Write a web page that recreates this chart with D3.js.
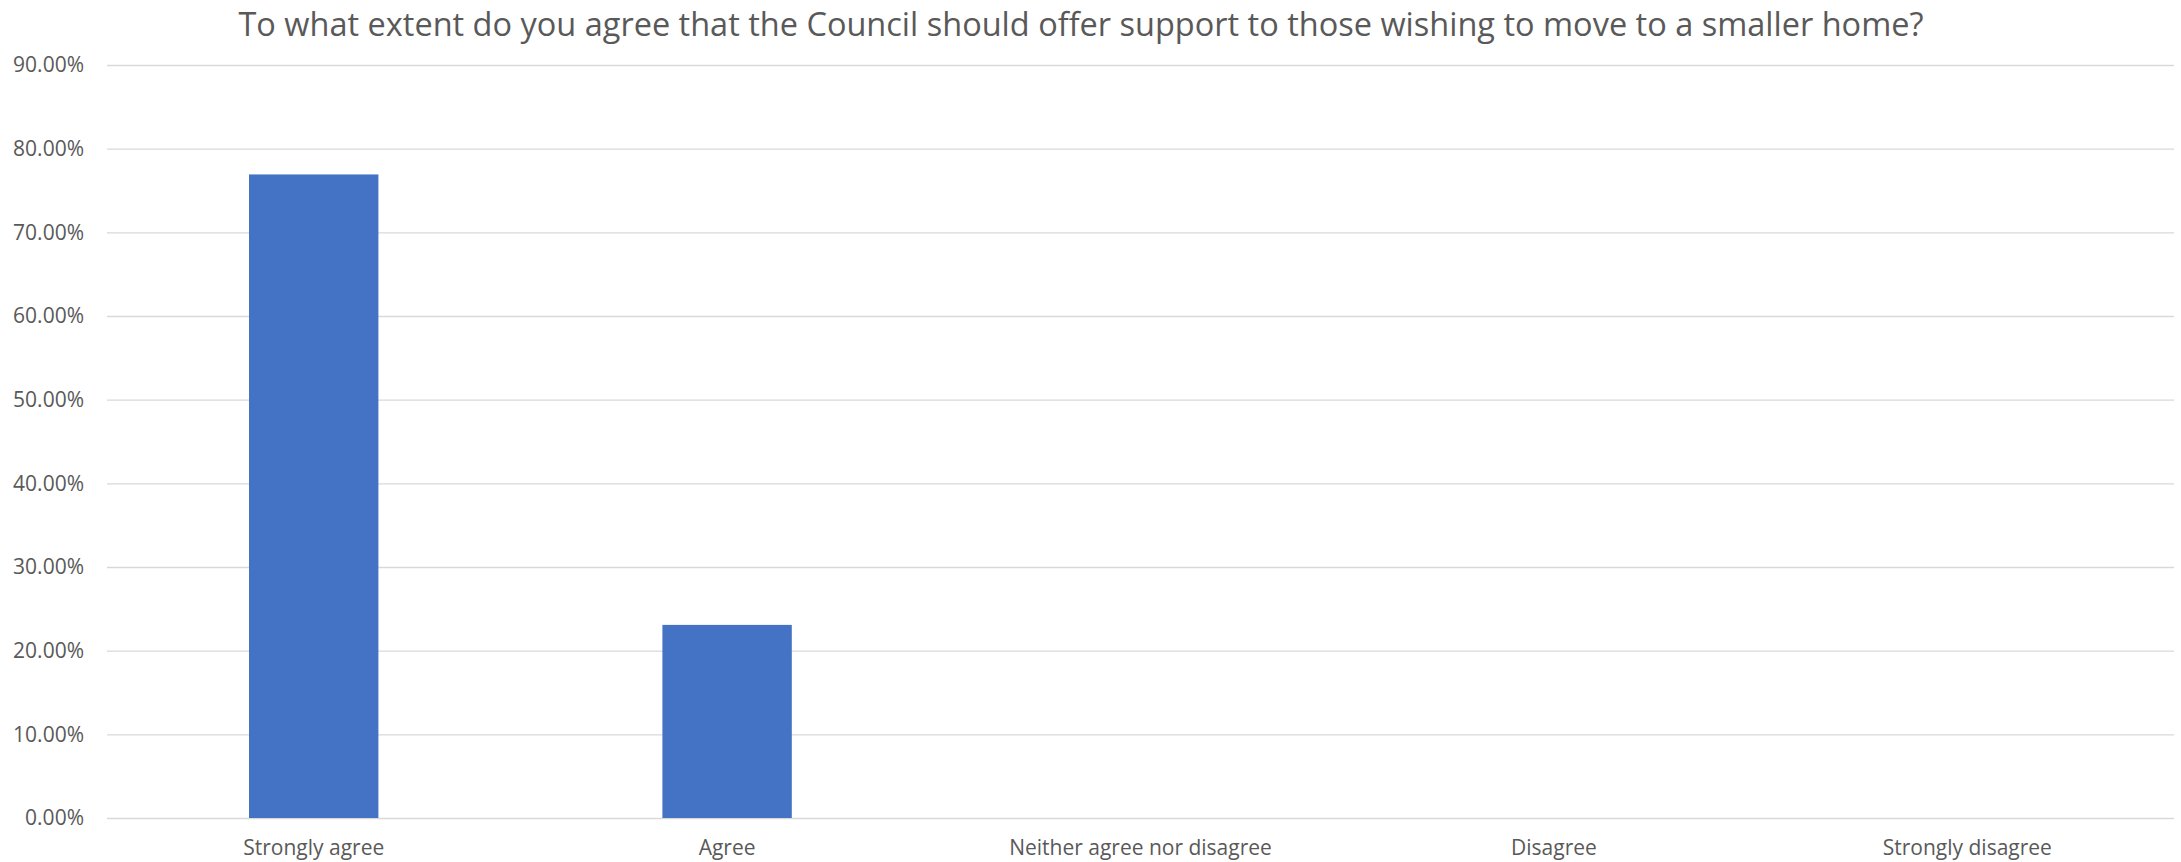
<!DOCTYPE html>
<html>
<head>
<meta charset="utf-8">
<script src="https://cdn.jsdelivr.net/npm/d3@7"></script>
<style>
  html, body { margin: 0; padding: 0; background: #ffffff; }
  svg { display: block; }
  text { font-family: "Open Sans", "Noto Sans", sans-serif; fill: #595959; }
</style>
</head>
<body>
<svg id="chart" width="2181" height="862"></svg>
<script>
// Survey responses
const title = "To what extent do you agree that the Council should offer support to those wishing to move to a smaller home?";
const categories = ["Strongly agree", "Agree", "Neither agree nor disagree", "Disagree", "Strongly disagree"];
const shares = [0.7692, 0.2308, 0, 0, 0];
const yTicks = [0, 0.1, 0.2, 0.3, 0.4, 0.5, 0.6, 0.7, 0.8, 0.9];

const W = 2181, H = 862;
const margin = { top: 65, right: 7, bottom: 44, left: 107 };
const svg = d3.select("#chart");

const x = d3.scaleBand()
  .domain(categories)
  .range([margin.left, W - margin.right])
  .paddingInner(0.687)
  .paddingOuter(0.3435);

const y = d3.scaleLinear()
  .domain([0, 0.9])
  .range([H - margin.bottom, margin.top]);

// Horizontal gridlines with percentage labels
const yAxis = d3.axisLeft(y)
  .tickValues(yTicks)
  .tickFormat(d => (d * 100).toFixed(2) + "%")
  .tickSize(-(W - margin.left - margin.right))
  .tickPadding(23);

const gy = svg.append("g")
  .attr("transform", `translate(${margin.left},0)`)
  .call(yAxis);
gy.select(".domain").remove();
gy.selectAll(".tick line").attr("stroke", "#d9d9d9").attr("stroke-width", 1.3);
gy.selectAll(".tick text")
  .attr("fill", "#595959")
  .style("font-size", "21px");

// Bars
svg.append("g")
  .selectAll("rect")
  .data(categories.map((c, i) => ({ c, v: shares[i] })))
  .join("rect")
  .attr("x", d => x(d.c))
  .attr("width", x.bandwidth())
  .attr("y", d => y(d.v))
  .attr("height", d => y(0) - y(d.v))
  .attr("fill", "#4472c4");

// Category labels
const xAxis = d3.axisBottom(x).tickSize(0).tickPadding(22);
const gx = svg.append("g")
  .attr("transform", `translate(0,${y(0)})`)
  .call(xAxis);
gx.select(".domain").remove();
gx.selectAll(".tick text")
  .attr("fill", "#595959")
  .style("font-size", "21px");

// Title
svg.append("text")
  .attr("x", 1081)
  .attr("y", 36)
  .attr("text-anchor", "middle")
  .style("font-size", "32.5px")
  .attr("fill", "#595959")
  .text(title);
</script>
</body>
</html>
